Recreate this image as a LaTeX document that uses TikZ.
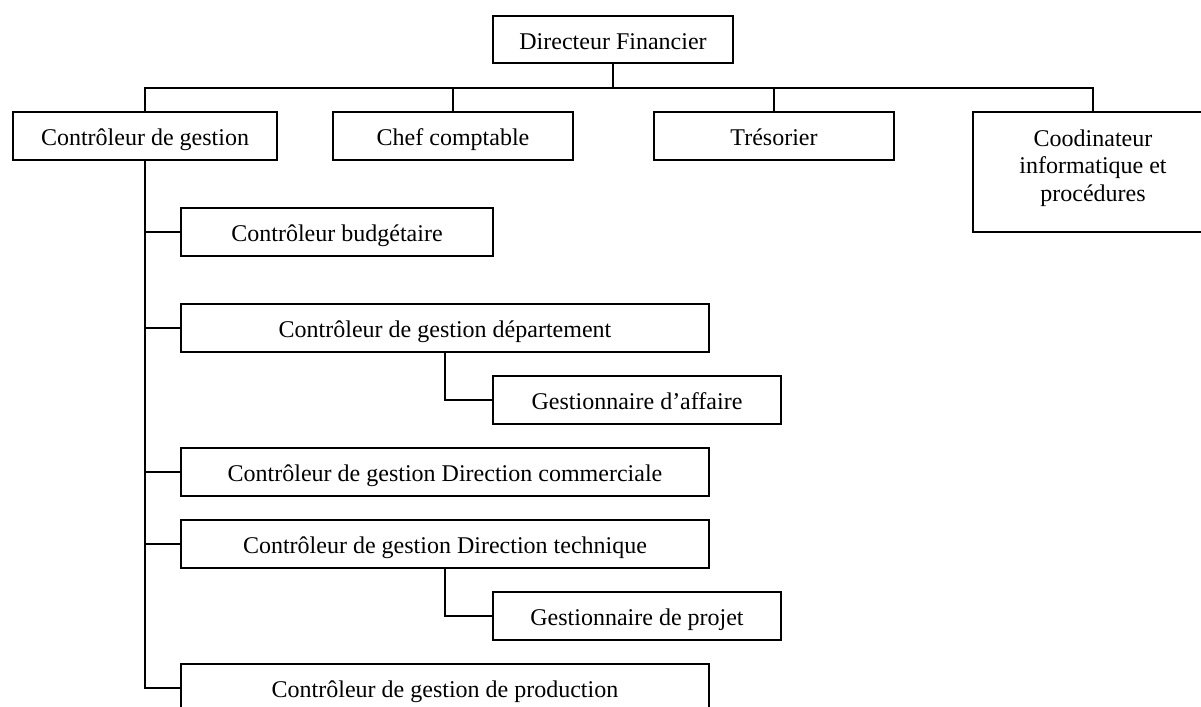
\documentclass[tikz,border=0pt]{standalone}
\usepackage{fontspec}
\setmainfont{Liberation Serif}

\begin{document}
\begin{tikzpicture}[x=0.5pt,y=-0.5pt,line width=0.9pt,
	poste/.style={draw,minimum height=24pt,inner sep=0pt,text height=9.5pt,text depth=0pt,font=\fontsize{12}{13.8}\selectfont}]

		\useasboundingbox (0,0) rectangle (1201,707);

		\node[poste,minimum width=120pt,minimum height=23.5pt] (DirFin) at (613,39.5) {Directeur Financier};
		\coordinate (Bus) at (613,88);

		\node[poste,minimum width=132pt] (CtrlGestion) at (145,136) {Contrôleur de gestion\hspace{8pt}};
		\node[poste,minimum width=120pt] (ChefCompta) at (453,136) {Chef comptable};
		\node[poste,minimum width=120pt] (Tresorier) at (774,136) {Trésorier};
		\node[poste,minimum width=120pt,align=center,inner ysep=5pt,text height=39.6pt,text depth=10.4pt] (CoordInfo) at (1093,172) {Coodinateur\\informatique et\\procédures};

		\node[poste,minimum width=156pt] (CtrlBudget) at (337,232) {Contrôleur budgétaire};
		\node[poste,minimum width=264pt] (CtrlDept) at (445,328) {Contrôleur de gestion département};
		\node[poste,minimum width=144pt] (GestAffaire) at (637,400) {Gestionnaire d’affaire};
		\node[poste,minimum width=264pt] (CtrlCommercial) at (445,472) {Contrôleur de gestion Direction commerciale};
		\node[poste,minimum width=264pt] (CtrlTechnique) at (445,544) {Contrôleur de gestion Direction technique};
		\node[poste,minimum width=144pt] (GestProjet) at (637,616) {Gestionnaire de projet};
		\node[poste,minimum width=264pt] (CtrlProduction) at (445,688) {Contrôleur de gestion de production};

		\draw (DirFin.south) -- (Bus);
		\draw (Bus) -| (CtrlGestion.north);
		\draw (Bus) -| (ChefCompta.north);
		\draw (Bus) -| (Tresorier.north);
		\draw (Bus) -| (CoordInfo.north);

		\draw (CtrlGestion.south) |- (CtrlBudget.west);
		\draw (CtrlGestion.south) |- (CtrlDept.west);
		\draw (CtrlGestion.south) |- (CtrlCommercial.west);
		\draw (CtrlGestion.south) |- (CtrlTechnique.west);
		\draw (CtrlGestion.south) |- (CtrlProduction.west);

		\draw (CtrlDept.south) |- (GestAffaire.west);
		\draw (CtrlTechnique.south) |- (GestProjet.west);
	\end{tikzpicture}
\end{document}
